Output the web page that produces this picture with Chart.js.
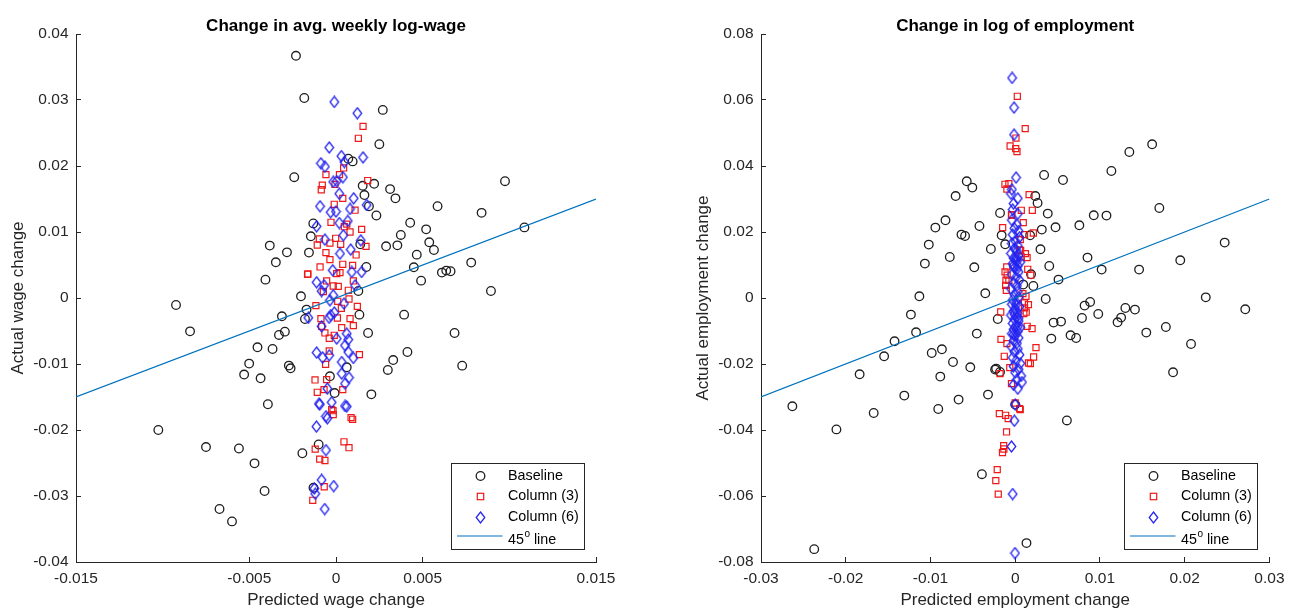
<!DOCTYPE html>
<html>
<head>
<meta charset="utf-8">
<script src="https://cdn.jsdelivr.net/npm/chart.js@4.4.1/dist/chart.umd.min.js"></script>
<style>
  html, body { margin: 0; padding: 0; background: #fff; overflow: hidden; }
  #wrap { position: relative; width: 1297px; height: 610px; }
  .box { position: absolute; top: 0; height: 610px; }
  #boxWage { left: 0; width: 648px; }
  #boxEmp { left: 648px; width: 649px; }
</style>
</head>
<body>
<div id="wrap">
  <div class="box" id="boxWage"><canvas id="wageChart"></canvas></div>
  <div class="box" id="boxEmp"><canvas id="empChart"></canvas></div>
</div>
<script>
// ---- data: [predicted, actual] ----
const seriesLabels = ["Baseline", "Column (3)", "Column (6)"];
const lineLabelParts = ["45", "o", " line"];

const wageXTicks = [-0.015, -0.005, 0, 0.005, 0.015];
const wageYTicks = [-0.04, -0.03, -0.02, -0.01, 0, 0.01, 0.02, 0.03, 0.04];
const empXTicks = [-0.03, -0.02, -0.01, 0, 0.01, 0.02, 0.03];
const empYTicks = [-0.08, -0.06, -0.04, -0.02, 0, 0.02, 0.04, 0.06, 0.08];

const wageLineEnds = [-0.015, 0.015];
const empLineEnds = [-0.03, 0.03];

const wageBaseline = [
  [-0.00231,0.0367],[-0.00183,0.0303],[-0.00241,0.0183],[-0.00131,0.0113],
  [0.0027,0.0285],[0.0025,0.0233],[0.00071,0.0211],[0.00096,0.0207],
  [0.00154,0.0170],[0.0022,0.0173],[0.00164,0.0156],[0.00312,0.0165],
  [0.00343,0.0151],[0.0019,0.0139],[0.00975,0.0177],[0.00586,0.0139],
  [0.0084,0.0129],[0.00233,0.0125],[0.00428,0.0114],[0.0052,0.0104],
  [0.01087,0.0107],[-0.00145,0.00935],[0.00374,0.00955],[0.00289,0.00783],
  [0.00354,0.00798],[0.00538,0.00844],[0.00466,0.00657],[0.00565,0.00727],
  [0.0078,0.00536],[-0.00156,0.00688],[0.0014,0.00814],[0.00175,0.0047],
  [0.00449,0.00465],[0.00611,0.00385],[0.00636,0.00415],[0.00661,0.00405],
  [0.00491,0.00263],[0.00894,0.00106],[0.00129,0.00106],[-0.0017,-0.00176],
  [-0.00179,-0.00318],[0.00135,-0.00252],[0.00393,-0.00252],[0.00185,-0.0053],
  [0.00684,-0.0053],[0.00412,-0.00818],[0.0033,-0.0094],[0.00299,-0.0109],
  [0.00728,-0.01025],[0.00062,-0.0105],[-0.00035,-0.01186],[-0.00008,-0.0144],
  [0.00204,-0.0146],[-0.00202,0.00026],[-0.00382,0.00794],[-0.00283,0.00692],
  [-0.00347,0.00541],[-0.00407,0.00278],[-0.00923,-0.00106],[-0.00312,-0.00277],
  [-0.00842,-0.00505],[-0.00295,-0.0051],[-0.00329,-0.0056],[-0.00453,-0.00747],
  [-0.00366,-0.00773],[-0.00501,-0.00994],[-0.00272,-0.01024],[-0.00262,-0.01065],
  [-0.0053,-0.0116],[-0.00435,-0.01217],[-0.00393,-0.0161],[-0.01025,-0.02],
  [-0.0075,-0.02258],[-0.0056,-0.0228],[-0.00194,-0.02352],[-0.001,-0.0222],
  [-0.0047,-0.02505],[-0.00412,-0.02924],[-0.0013,-0.02876],[-0.00672,-0.03197],
  [-0.006,-0.03385]
];

const wageCol3 = [
  [-0.00058,0.0187],[-0.00079,0.0171],[-0.00085,0.0164],[-0.00006,0.0172],
  [-0.0001,0.0142],[-0.00029,0.01147],[0.0002,0.0187],[0.00156,0.026],
  [0.00129,0.0242],[0.00044,0.0197],[0.00183,0.0178],[0.00039,0.0151],
  [0.0011,0.0133],[0.00148,0.0104],[0.00048,0.0108],[0.00062,0.0112],
  [0.00081,0.01],[-0.00096,0.00894],[-0.00002,0.00905],[-0.00035,0.00833],
  [0.00027,0.00814],[-0.00108,0.00803],[0.00173,0.00783],[-0.00058,0.00688],
  [0.00116,0.00652],[-0.00035,0.00582],[0.00039,0.00511],[0.00096,0.00495],
  [-0.00092,0.0047],[-0.00162,0.00364],[0.00004,0.0037],[0.00023,0.00385],
  [-0.00054,0.00258],[-0.00016,0.00182],[0.00013,0.00177],[0.001,0.00258],
  [0.00071,0.00117],[-0.00073,0.00097],[0.00075,-0.00015],[0.0001,-0.0005],
  [-0.00116,-0.00115],[0.00123,-0.00126],[0.00031,-0.00156],[-0.00087,-0.00312],
  [0.00008,-0.00303],[0.00081,-0.00312],[-0.00083,-0.00429],[-0.00064,-0.0053],
  [-0.0001,-0.00565],[0.001,-0.00418],[0.00033,-0.00448],[-0.00039,-0.00803],
  [0.00135,-0.00858],[-0.0006,-0.01005],[-0.00121,-0.01242],[-0.00054,-0.01236],
  [-0.00108,-0.01429],[0.00039,-0.01388],[-0.00069,-0.01388],[-0.00025,-0.0169],
  [-0.00016,-0.01767],[0.00087,-0.01812],[-0.00017,-0.01708],[0.00096,-0.01838],
  [0.00046,-0.02179],[0.00075,-0.02268],[-0.0012,-0.02289],[-0.00094,-0.02441],
  [-0.00064,-0.02462],[-0.00068,-0.0286],[-0.00134,-0.03065],[-0.00164,0.00359],
  [-0.00039,-0.0061]
];

const wageCol6 = [
  [-0.0001,0.0297],[0.00123,0.028],[-0.00039,0.0228],[-0.00087,0.0204],
  [-0.00064,0.0199],[0.00031,0.0215],[0.00048,0.0206],[0.00156,0.0213],
  [0.0004,0.0183],[0.00004,0.0177],[0.00019,0.0158],[0.00102,0.0151],
  [-0.00092,0.0139],[0.00081,0.0135],[0.00177,0.0141],[-0.00031,0.013],
  [0.0,0.0131],[0.00019,0.01136],[0.00068,0.01167],[-0.00112,0.01086],
  [0.00042,0.0095],[-0.00064,0.00885],[0.00143,0.00874],[0.00023,0.00672],
  [0.00085,0.00733],[-0.00019,0.0042],[0.00091,0.00394],[0.00148,0.00394],
  [-0.00112,0.00238],[-0.00069,0.00192],[0.0011,0.00192],[-0.00083,0.00106],
  [-0.00016,0.00041],[0.00046,-0.00085],[-0.00035,-0.00035],[-0.0003,-0.0026],
  [-0.0001,-0.0022],[-0.0004,-0.003],[-0.0016,-0.003],[-0.00083,-0.00429],
  [0.00062,-0.0054],[0.00004,-0.00615],[0.00071,-0.0063],[0.00052,-0.00717],
  [0.00071,-0.00818],[-0.00112,-0.00827],[-0.00077,-0.00903],[-0.00039,-0.00868],
  [0.001,-0.00909],[0.00033,-0.0097],[0.00033,-0.01145],[0.00075,-0.01206],
  [0.00052,-0.01297],[-0.0005,-0.01373],[-0.00098,-0.016],[-0.00025,-0.0158],
  [0.00052,-0.01636],[-0.00058,-0.01792],[-0.00094,-0.01614],[0.00062,-0.01644],
  [-0.0005,-0.01823],[-0.00113,-0.01948],[-0.00058,-0.02305],[-0.00083,-0.02756],
  [-0.00125,-0.02886],[-0.00013,-0.0285],[-0.0012,-0.02965],[-0.00065,-0.03197],
  [-0.00016,0.0176]
];

const empBaseline = [
  [-0.00572,0.03536],[-0.00506,0.03345],[-0.00703,0.0309],[-0.00179,0.02576],
  [-0.00823,0.02355],[-0.00942,0.02133],[-0.00422,0.02182],[0.01616,0.04658],
  [0.01347,0.04424],[0.01135,0.03848],[0.00341,0.03727],[0.00564,0.03576],
  [0.01701,0.02727],[0.00237,0.0309],[0.00264,0.02879],[0.00384,0.02558],
  [0.00927,0.02506],[0.01077,0.02497],[0.00757,0.02203],[0.00476,0.02142],
  [0.00314,0.02073],[-0.0016,0.019],[-0.00118,0.01627],[0.00176,0.019],
  [0.00298,0.01476],[0.02472,0.01679],[0.00853,0.01224],[0.01948,0.01142],
  [0.00402,0.0097],[0.0102,0.0086],[0.01462,0.0086],[0.00187,0.00718],
  [0.00511,0.00558],[0.00095,0.00406],[0.00214,0.00364],[0.0036,-0.0003],
  [0.02249,0.0002],[0.02715,-0.00342],[0.00819,-0.0023],[0.00884,-0.0012],
  [0.0098,-0.00485],[0.013,-0.00303],[0.01413,-0.00352],[0.00788,-0.00606],
  [0.0125,-0.00594],[0.01208,-0.00736],[0.00453,-0.00745],[0.00541,-0.00715],
  [0.01778,-0.00879],[0.01547,-0.01048],[0.00426,-0.0123],[0.00653,-0.0113],
  [0.00719,-0.01212],[0.02075,-0.01394],[0.01863,-0.02252],[-0.00206,-0.00636],
  [-0.00225,-0.0214],[0.0061,-0.0371],[-0.00634,0.01921],[-0.00592,0.01879],
  [-0.0102,0.01618],[-0.00287,0.01485],[-0.00772,0.01242],[-0.01066,0.01042],
  [-0.00483,0.0093],[-0.00353,0.00142],[-0.01131,0.00052],[-0.01231,-0.00503],
  [-0.0117,-0.0104],[-0.00453,-0.01079],[-0.01424,-0.01312],[-0.01547,-0.01767],
  [-0.00985,-0.01667],[-0.00865,-0.01555],[-0.00734,-0.01939],[-0.0053,-0.021],
  [-0.00237,-0.0217],[-0.01836,-0.02312],[-0.00884,-0.02382],[-0.01309,-0.02958],
  [-0.00668,-0.03079],[-0.00321,-0.02927],[-0.0263,-0.03282],[-0.0167,-0.03485],
  [-0.00908,-0.03364],[-0.0211,-0.03982],[-0.00393,-0.0534],[-0.02372,-0.0761],
  [0.00133,-0.07427],[0.0,-0.0323],[-0.00179,-0.0224]
];

const empCol3 = [
  [-0.0006,0.04606],[-0.00121,0.03445],[-0.00075,0.03467],[-0.00098,0.03303],
  [-0.0004,0.02506],[-0.00148,0.02133],[0.00025,0.06112],[0.00118,0.05133],
  [0.00009,0.04848],[0.00006,0.04527],[0.00021,0.04436],[0.00164,0.03133],
  [0.00072,0.02658],[0.00202,0.02658],[0.00095,0.02285],[-0.00044,0.02527],
  [0.0006,0.0177],[0.0011,0.0192],[0.00214,0.0197],[0.00064,0.01445],
  [0.00121,0.01345],[0.0014,0.01224],[0.00071,0.01242],[-0.001,0.0094],
  [-0.0012,0.0079],[-0.00075,0.00536],[-0.00113,0.00385],[0.00148,0.0087],
  [0.00091,0.00133],[-0.00171,-0.00424],[0.00156,-0.002],[0.0011,-0.003],
  [0.00102,-0.0047],[0.00141,-0.00858],[0.00199,-0.00927],[-0.00168,-0.01252],
  [-0.00098,-0.01382],[0.00245,-0.01503],[-0.00129,-0.01767],[0.00217,-0.01788],
  [0.00179,-0.01988],[-0.00179,-0.02291],[-0.00064,-0.0211],[-0.00044,-0.02594],
  [0.0,-0.03182],[0.00052,-0.03352],[-0.00187,-0.03503],[-0.00113,-0.03555],
  [-0.00083,-0.03655],[-0.00102,-0.0406],[-0.00136,-0.04473],[-0.00134,-0.04576],
  [-0.0015,-0.04682],[-0.00212,-0.052],[-0.00229,-0.05533],[-0.002,-0.05942],
  [0.00059,-0.0338],[-0.00095,0.0069],[-0.00109,0.0054],[0.00183,0.0069],
  [0.00127,0.0005],[0.00109,-0.0015],[0.00157,-0.0197],[0.00052,0.0146],
  [-0.00105,0.0023],[0.0013,-0.0043]
];

const empCol6 = [
  [-0.00037,0.0667],[-0.00014,0.0577],[-0.00014,0.0495],[0.0001,0.0365],
  [-0.0004,0.0329],[-0.0005,0.0316],[0.0003,0.0302],[-0.0002,0.0286],
  [-0.0003,0.0268],[0.0003,0.0255],[-0.0004,0.0236],[0.0002,0.0222],
  [-0.0001,0.0211],[0.0004,0.0203],[-0.0003,0.0192],[0.0005,0.0184],
  [0.0,0.0173],[-0.0004,0.0165],[0.0003,0.0158],[-0.0001,0.0150],
  [0.0002,0.0142],[-0.0005,0.0135],[0.0004,0.0128],[-0.0002,0.0121],
  [0.0001,0.0116],[0.0006,0.0109],[-0.0003,0.0104],[0.0003,0.0098],
  [-0.0001,0.0092],[0.0002,0.0087],[0.0004,0.0079],[-0.0004,0.0071],
  [0.0001,0.0063],[0.0005,0.0054],[-0.0002,0.0046],[0.0002,0.0037],
  [-0.0005,0.0028],[0.0003,0.0019],[-0.0001,0.0010],[0.0004,0.0002],
  [-0.0003,-0.0006],[0.0001,-0.0012],[-0.0004,-0.0019],[0.0005,-0.0026],
  [0.0,-0.0033],[-0.0002,-0.0040],[0.0003,-0.0046],[-0.0005,-0.0052],
  [0.0002,-0.0058],[-0.0001,-0.0064],[0.0004,-0.0070],[-0.0003,-0.0077],
  [0.0001,-0.0083],[0.0006,-0.0089],[-0.0002,-0.0095],[0.0003,-0.0101],
  [-0.0004,-0.0108],[0.0,-0.0114],[0.0004,-0.0121],[-0.0002,-0.0129],
  [0.0002,-0.0137],[-0.0005,-0.0146],[0.0003,-0.0154],[-0.0001,-0.0163],
  [0.0005,-0.0172],[-0.0003,-0.0181],[0.0001,-0.0190],[0.0006,-0.0198],
  [-0.0002,-0.0207],[0.0004,-0.0216],[0.0,-0.0226],[0.0007,-0.0236],
  [0.0002,-0.0247],[0.0008,-0.0255],[-0.0002,-0.0263],[0.0003,-0.0275],
  [0.0,-0.0323],[-0.0001,-0.0372],[-0.00044,-0.045],[-0.0003,-0.0594],
  [-0.00003,-0.0773],[0.0002,0.0112],[-0.0002,0.0098],[0.0001,-0.0021],
  [-0.0001,-0.0049],[0.0003,-0.0087],[-0.0002,-0.0111],[0.0001,0.0125],
  [0.0004,-0.0061]
];

// ---- styling ----
const FONT = "'Liberation Sans', Arial, Helvetica, sans-serif";
const AXIS_COLOR = "#262626";
const BLACK = "#1e1e1e";
const RED = "#ee1a1a";
const BLUE = "#2424f0";
const LINE_BLUE = "#0072bd";

Chart.defaults.font.family = FONT;

function pts(list) {
  return list.map(p => ({ x: p[0], y: p[1] }));
}

function lineData(ends) {
  return ends.map(v => ({ x: v, y: v }));
}

function tickLabel(v) {
  return String(Number(Number(v).toFixed(4)));
}

function makeDiamond(color) {
  const c = document.createElement("canvas");
  c.width = 11;
  c.height = 13;
  const g = c.getContext("2d");
  g.strokeStyle = color;
  g.lineWidth = 1.25;
  g.beginPath();
  g.moveTo(5.5, 1);
  g.lineTo(9.8, 6.5);
  g.lineTo(5.5, 12);
  g.lineTo(1.2, 6.5);
  g.closePath();
  g.stroke();
  return c;
}

const diamond = makeDiamond(BLUE);

// title above the axes and a boxed legend in the lower right corner
const matlabDecor = {
  id: "matlabDecor",
  afterDraw(chart, args, opts) {
    const ctx = chart.ctx;
    const ca = chart.chartArea;
    ctx.save();

    ctx.font = "bold 17px " + FONT;
    ctx.fillStyle = "#000";
    ctx.textAlign = "center";
    ctx.textBaseline = "alphabetic";
    ctx.fillText(opts.title, (ca.left + ca.right) / 2, 31);

    const w = 133, h = 86;
    const bx = Math.round(ca.right - 12 - w) + 0.5;
    const by = Math.round(ca.bottom - 13 - h) + 0.5;
    ctx.fillStyle = "#fff";
    ctx.fillRect(bx, by, w, h);
    ctx.strokeStyle = AXIS_COLOR;
    ctx.lineWidth = 1;
    ctx.strokeRect(bx, by, w, h);

    const mx = bx + 29;
    const tx = bx + 56.5;
    const rows = [12.5, 33, 53.5];

    // circle
    ctx.strokeStyle = BLACK;
    ctx.lineWidth = 1.3;
    ctx.beginPath();
    ctx.arc(mx, by + rows[0], 4.3, 0, Math.PI * 2);
    ctx.stroke();
    // square
    ctx.strokeStyle = RED;
    ctx.lineWidth = 1.2;
    ctx.strokeRect(mx - 3.2, by + rows[1] - 3.2, 6.4, 6.4);
    // diamond
    ctx.drawImage(diamond, Math.round(mx - 5.5), Math.round(by + rows[2] - 6.5));
    // line sample
    ctx.strokeStyle = LINE_BLUE;
    ctx.lineWidth = 1.2;
    ctx.beginPath();
    ctx.moveTo(bx + 5.5, by + 72.5);
    ctx.lineTo(bx + 51, by + 72.5);
    ctx.stroke();

    ctx.fillStyle = "#000";
    ctx.textAlign = "left";
    ctx.textBaseline = "middle";
    ctx.font = "14.3px " + FONT;
    seriesLabels.forEach((t, i) => ctx.fillText(t, tx, by + rows[i]));

    const ly = by + 76.5;
    ctx.fillText(lineLabelParts[0], tx, ly);
    let cx = tx + ctx.measureText(lineLabelParts[0]).width;
    ctx.font = "10px " + FONT;
    ctx.fillText(lineLabelParts[1], cx + 0.5, ly - 5.5);
    cx += ctx.measureText(lineLabelParts[1]).width + 0.5;
    ctx.font = "14.3px " + FONT;
    ctx.fillText(lineLabelParts[2], cx, ly);

    ctx.restore();
  }
};

function axis(ticks, title, isX, size, titlePad) {
  const cfg = {
    type: "linear",
    position: isX ? "bottom" : "left",
    min: ticks[0],
    max: ticks[ticks.length - 1],
    afterBuildTicks: s => { s.ticks = ticks.map(v => ({ value: v })); },
    ticks: {
      autoSkip: false,
      maxRotation: 0,
      padding: 12.5,
      color: AXIS_COLOR,
      font: { size: 15.5 },
      callback: v => tickLabel(v)
    },
    grid: {
      drawOnChartArea: false,
      drawTicks: true,
      tickLength: -5,
      color: AXIS_COLOR,
      lineWidth: 1
    },
    border: { display: true, color: AXIS_COLOR, width: 1 },
    title: {
      display: true,
      text: title,
      color: AXIS_COLOR,
      font: { size: 17 },
      padding: titlePad
    }
  };
  if (isX) {
    cfg.afterFit = s => { s.height = size; };
  } else {
    cfg.afterFit = s => { s.width = size; };
  }
  return cfg;
}

function makeChart(id, d) {
  const ctx = document.getElementById(id);
  return new Chart(ctx, {
    type: "scatter",
    data: {
      datasets: [
        {
          label: seriesLabels[0],
          data: pts(d.base),
          pointStyle: "circle",
          pointRadius: 4.3,
          borderColor: BLACK,
          pointBorderColor: BLACK,
          backgroundColor: "rgba(0,0,0,0)",
          pointBackgroundColor: "rgba(0,0,0,0)",
          pointBorderWidth: 1.3,
          order: 4
        },
        {
          label: seriesLabels[1],
          data: pts(d.col3),
          pointStyle: "rect",
          pointRadius: 4.3,
          borderColor: RED,
          pointBorderColor: RED,
          backgroundColor: "rgba(0,0,0,0)",
          pointBackgroundColor: "rgba(0,0,0,0)",
          pointBorderWidth: 1.2,
          order: 3
        },
        {
          label: seriesLabels[2],
          data: pts(d.col6),
          pointStyle: diamond,
          pointRadius: 5,
          borderColor: BLUE,
          pointBorderColor: BLUE,
          order: 2
        },
        {
          label: "45o line",
          data: lineData(d.lineEnds),
          showLine: true,
          pointRadius: 0,
          borderColor: LINE_BLUE,
          borderWidth: 1.2,
          fill: false,
          order: 1
        }
      ]
    },
    options: {
      responsive: true,
      maintainAspectRatio: false,
      animation: false,
      events: [],
      layout: {
        padding: { top: 34, right: d.padRight, bottom: 0, left: 0 }
      },
      scales: {
        x: axis(d.xTicks, d.xTitle, true, 48, { top: 0, bottom: -1 }),
        y: axis(d.yTicks, d.yTitle, false, d.yWidth, { top: d.yTitlePad, bottom: 0 })
      },
      plugins: {
        legend: { display: false },
        tooltip: { enabled: false },
        title: { display: false },
        matlabDecor: { title: d.title }
      }
    },
    plugins: [matlabDecor]
  });
}

makeChart("wageChart", {
  title: "Change in avg. weekly log-wage",
  xTitle: "Predicted wage change",
  yTitle: "Actual wage change",
  base: wageBaseline,
  col3: wageCol3,
  col6: wageCol6,
  lineEnds: wageLineEnds,
  xTicks: wageXTicks,
  yTicks: wageYTicks,
  padRight: 52,
  yWidth: 76,
  yTitlePad: 8
});

makeChart("empChart", {
  title: "Change in log of employment",
  xTitle: "Predicted employment change",
  yTitle: "Actual employment change",
  base: empBaseline,
  col3: empCol3,
  col6: empCol6,
  lineEnds: empLineEnds,
  xTicks: empXTicks,
  yTicks: empYTicks,
  padRight: 17,
  yWidth: 113,
  yTitlePad: 45
});
</script>
</body>
</html>
